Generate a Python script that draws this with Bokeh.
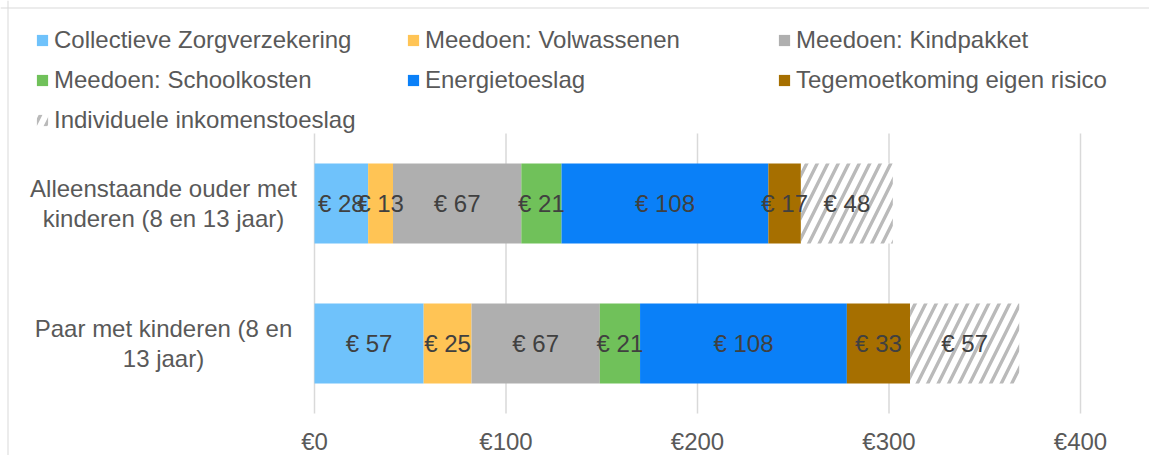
from bokeh.plotting import figure
from bokeh.models import Range1d, Legend, LegendItem, ColumnDataSource, Span
from bokeh.embed import file_html
from bokeh.resources import INLINE
from bokeh.core.properties import value
import numpy as np

# ---- data ----
categories = ["Paar met kinderen (8 en\n13 jaar)",
              "Alleenstaande ouder met\nkinderen (8 en 13 jaar)"]
series = ["Collectieve Zorgverzekering", "Meedoen: Volwassenen", "Meedoen: Kindpakket",
          "Meedoen: Schoolkosten", "Energietoeslag", "Tegemoetkoming eigen risico",
          "Individuele inkomenstoeslag"]
# values in category order: [Paar, Alleenstaande]
zorgverzekering = [57, 28]
volwassenen = [25, 13]
kindpakket = [67, 67]
schoolkosten = [21, 21]
energietoeslag = [108, 108]
eigen_risico = [33, 17]
inkomenstoeslag = [57, 48]
tick_values = [0, 100, 200, 300, 400]
tick_labels = ["€0", "€100", "€200", "€300", "€400"]

values = [zorgverzekering, volwassenen, kindpakket, schoolkosten,
          energietoeslag, eigen_risico, inkomenstoeslag]
colors = ["#6fc2fb", "#ffc455", "#afafaf", "#70c15a", "#0a80f8", "#a66f00", "#ffffff"]
hatched = [False, False, False, False, False, False, True]

FONT = "Liberation Sans"
W, H = 1149, 455

# ---- layout (pixels) ----
PLOT_LEFT, PLOT_RIGHT = 314, 1080      # x = 0 and x = 400
PLOT_TOP, PLOT_BOTTOM = 133, 413       # category band
xmin, xmax = tick_values[0], tick_values[-1]
ncat = len(categories)
px_per_x = (PLOT_RIGHT - PLOT_LEFT) / (xmax - xmin)
px_per_cat = (PLOT_BOTTOM - PLOT_TOP) / ncat

def xd(px):
    return xmin + (px - PLOT_LEFT) / px_per_x

def yd(px):
    # category i is centred in band i, counted from the bottom
    return (PLOT_BOTTOM - px) / px_per_cat - 0.5

p = figure(width=W, height=H,
           x_range=Range1d(xd(0), xd(W)), y_range=Range1d(yd(H), yd(0)),
           output_backend="svg", toolbar_location=None,
           x_axis_location=None, y_axis_location=None,
           min_border_left=0, min_border_right=0, min_border_top=0, min_border_bottom=0)
p.outline_line_color = None
p.xgrid.grid_line_color = None
p.ygrid.grid_line_color = None

# outer chart border (top and left)
p.add_layout(Span(location=xd(7.5), dimension="height", line_color="#d9d9d9", line_width=1))
p.add_layout(Span(location=yd(7.5), dimension="width", line_color="#d9d9d9", line_width=1))

cat_pos = np.arange(ncat)

# vertical grid lines at the ticks, spanning the category band
p.segment(x0=tick_values, x1=tick_values,
          y0=[-0.5] * len(tick_values), y1=[ncat - 0.5] * len(tick_values),
          line_color="#d9d9d9", line_width=1.5)

cum = np.zeros(ncat)
renderers = []
label_sources = []
for name, vals, col, h in zip(series, values, colors, hatched):
    vals = np.array(vals, dtype=float)
    left = cum.copy()
    right = cum + vals
    cum = right
    src = ColumnDataSource(dict(y=cat_pos, left=left, right=right,
                                xc=(left + right) / 2,
                                label=[f"€ {int(v)}" for v in vals]))
    kw = {}
    if h:
        kw = dict(hatch_pattern="/", hatch_color="#bababa", hatch_scale=21, hatch_weight=3.4)
    r = p.hbar(y="y", left="left", right="right", height=80 / px_per_cat, source=src,
               fill_color=col, line_color=None, **kw)
    renderers.append(r)
    label_sources.append(src)

for src in label_sources:
    p.text(x="xc", y="y", text="label", source=src,
           text_font=value(FONT), text_font_size="24px", text_color="#404040",
           text_align="center", text_baseline="middle")

# category labels (lines centred, block left of the axis)
p.text(x=[xd(163)] * ncat, y=cat_pos, text=categories,
       text_font=value(FONT), text_font_size="24px", text_color="#595959",
       text_align="center", text_baseline="middle", text_line_height=1.13)

# x tick labels
p.text(x=tick_values, y=[yd(441)] * len(tick_values), text=tick_labels,
       text_font=value(FONT), text_font_size="24px", text_color="#595959",
       text_align="center", text_baseline="middle")

items = [LegendItem(label=n, renderers=[r]) for n, r in zip(series, renderers)]
legend = Legend(items=items, ncols=3, orientation="horizontal",
                location=(35, H - 134), padding=0, margin=0, spacing=12,
                glyph_width=14, glyph_height=14, label_standoff=5, label_width=340,
                label_text_font=FONT, label_text_font_size="24px",
                label_text_color="#595959", border_line_color=None,
                background_fill_alpha=0)
p.add_layout(legend, "center")

open("out.html", "w").write(file_html(p, INLINE))
